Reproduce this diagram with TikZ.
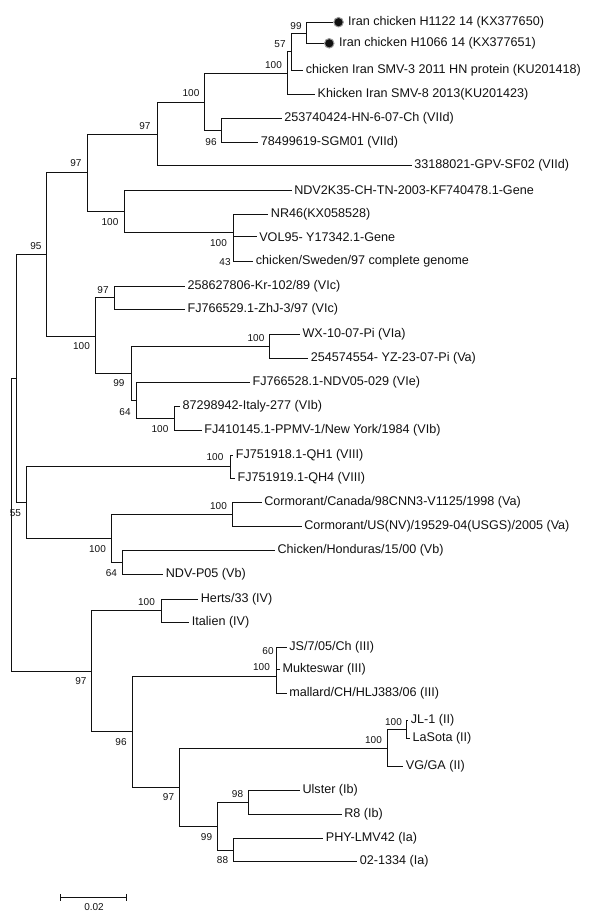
\documentclass[tikz,border=0pt]{standalone}
\usepackage{fontspec}
\setmainfont{Liberation Sans}
\usepackage{tikz}
\usetikzlibrary{arrows.meta}
\definecolor{ink}{HTML}{111111}
\definecolor{halo}{HTML}{9A9A9A}
\tikzset{
  branch/.style={draw=ink,line width=0.95pt},
  leaf/.style={anchor=west,inner xsep=2.4pt,inner ysep=0pt,text=ink,
    font=\fontsize{12.6}{14}\selectfont},
  boot/.style={inner sep=0pt,text=ink,font=\fontsize{10}{12}\selectfont},
  dotmark/.style={circle,anchor=west,minimum size=9.5pt,inner sep=0pt,fill=ink,
    draw=halo,line width=1pt},
}
\begin{document}
\begin{tikzpicture}[x=1pt,y=-1pt]
  \useasboundingbox (0,0) rectangle (599,918);
  % internal nodes
  \coordinate (root)  at (11,524.7);
  \coordinate (n55)   at (16.7,378.3);
  \coordinate (n95)   at (46,254.5);
  \coordinate (n97b)  at (87.3,172.7);
  \coordinate (n97a)  at (157,134.3);
  \coordinate (n100a) at (204.3,102);
  \coordinate (n100b) at (287.3,73.3);
  \coordinate (n57)   at (291.7,51.8);
  \coordinate (n99)   at (306,33);
  \coordinate (n96)   at (221,130.3);
  \coordinate (n100c) at (124.3,211);
  \coordinate (n100d) at (233,232.3);
  \coordinate (n100f) at (95.7,336.7);
  \coordinate (n97c)  at (114.3,297.7);
  \coordinate (n99b)  at (131,373.3);
  \coordinate (n100g) at (269.3,346.3);
  \coordinate (n64a)  at (136.7,400.5);
  \coordinate (n100i) at (174.3,418.3);
  \coordinate (n100h) at (26.7,502);
  \coordinate (n100j) at (230,466.7);
  \coordinate (n100k) at (111,538.3);
  \coordinate (n100l) at (232.3,514.7);
  \coordinate (n64b)  at (122.7,562.3);
  \coordinate (n97d)  at (91,671);
  \coordinate (n100m) at (161,610.7);
  \coordinate (n96b)  at (132.7,731.7);
  \coordinate (n100n) at (276.7,676);
  \coordinate (n60)   at (276.7,658.3);
  \coordinate (n97e)  at (179.3,787.3);
  \coordinate (n100o) at (387.3,748.3);
  \coordinate (n100p) at (406,729.2);
  \coordinate (n99c)  at (217.3,826);
  \coordinate (n98)   at (248.3,802);
  \coordinate (n88)   at (233.3,850);

  % leaves
  \node[dotmark] (dotA) at (333.3,22.2) {};
  \node[leaf] (tA) at (345.5,22.2) {Iran chicken H1122 14 (KX377650)};
  \node[dotmark] (dotB) at (324,43.3) {};
  \node[leaf] (tB) at (336.5,43.3) {Iran chicken H1066 14 (KX377651)};
  \node[leaf] (smv3) at (303.3,70) {chicken Iran SMV-3 2011 HN protein (KU201418)};
  \node[leaf] (smv8) at (315,94.3) {Khicken Iran SMV-8 2013(KU201423)};
  \node[leaf] (hn6) at (281.7,118.3) {253740424-HN-6-07-Ch (VIId)};
  \node[leaf] (sgm) at (258.3,142.3) {78499619-SGM01 (VIId)};
  \node[leaf] (gpv) at (411.7,165.7) {33188021-GPV-SF02 (VIId)};
  \node[leaf] (ndv2k) at (291.7,190) {NDV2K35-CH-TN-2003-KF740478.1-Gene};
  \node[leaf] (nr46) at (268.3,214.3) {NR46(KX058528)};
  \node[leaf] (vol) at (256.7,236.7) {VOL95- Y17342.1-Gene};
  \node[leaf] (swe) at (253.3,261.7) {chicken/Sweden/97 complete genome};
  \node[leaf] (kr) at (185,286) {258627806-Kr-102/89 (VIc)};
  \node[leaf] (zhj) at (185,309.3) {FJ766529.1-ZhJ-3/97 (VIc)};
  \node[leaf] (wx) at (300,334.3) {WX-10-07-Pi (VIa)};
  \node[leaf] (yz) at (308.3,358.3) {254574554- YZ-23-07-Pi (Va)};
  \node[leaf] (ndv05) at (250,382.7) {FJ766528.1-NDV05-029 (VIe)};
  \node[leaf] (ita) at (180,406.7) {87298942-Italy-277 (VIb)};
  \node[leaf] (ppmv) at (201.7,430) {FJ410145.1-PPMV-1/New York/1984 (VIb)};
  \node[leaf] (qh1) at (233.3,455) {FJ751918.1-QH1 (VIII)};
  \node[leaf] (qh4) at (235,478.3) {FJ751919.1-QH4 (VIII)};
  \node[leaf] (corca) at (261.7,502.7) {Cormorant/Canada/98CNN3-V1125/1998 (Va)};
  \node[leaf] (corus) at (301.7,526.7) {Cormorant/US(NV)/19529-04(USGS)/2005 (Va)};
  \node[leaf] (hon) at (275,550.7) {Chicken/Honduras/15/00 (Vb)};
  \node[leaf] (p05) at (163.3,574) {NDV-P05 (Vb)};
  \node[leaf] (herts) at (198.3,599) {Herts/33 (IV)};
  \node[leaf] (italien) at (189.3,622.3) {Italien (IV)};
  \node[leaf] (js) at (286.7,647.3) {JS/7/05/Ch (III)};
  \node[leaf] (muk) at (280,669.3) {Mukteswar (III)};
  \node[leaf] (mal) at (286.7,693.3) {mallard/CH/HLJ383/06 (III)};
  \node[leaf] (jl) at (408.3,720) {JL-1 (II)};
  \node[leaf] (laso) at (410,738.3) {LaSota (II)};
  \node[leaf] (vg) at (403.3,766) {VG/GA (II)};
  \node[leaf] (uls) at (300,790) {Ulster (Ib)};
  \node[leaf] (r8) at (341.7,814) {R8 (Ib)};
  \node[leaf] (phy) at (323.3,838.3) {PHY-LMV42 (Ia)};
  \node[leaf] (l02) at (357.3,861.7) {02-1334 (Ia)};

  % branches
  \foreach \p/\c in {root/n55,root/n97d,n55/n95,n55/n100h,n95/n97b,n95/n100f,
      n97b/n97a,n97b/n100c,n97a/n100a,n100a/n100b,n100a/n96,n100b/n57,n57/n99,
      n100c/n100d,n100f/n97c,n100f/n99b,n99b/n100g,n99b/n64a,n64a/n100i,
      n100h/n100j,n100h/n100k,n100k/n100l,n100k/n64b,n97d/n100m,n97d/n96b,
      n96b/n100n,n96b/n97e,n100n/n60,n97e/n100o,n97e/n99c,n100o/n100p,
      n99c/n98,n99c/n88}
    \draw[branch] (\p) |- (\c);
  \foreach \p/\c in {n99/dotA,n99/dotB,n57/smv3,n100b/smv8,n96/hn6,n96/sgm,
      n97a/gpv,n100c/ndv2k,n100d/nr46,n100d/vol,n100d/swe,n97c/kr,n97c/zhj,
      n100g/wx,n100g/yz,n64a/ndv05,n100i/ita,n100i/ppmv,n100j/qh1,n100j/qh4,
      n100l/corca,n100l/corus,n64b/hon,n64b/p05,n100m/herts,n100m/italien,
      n60/js,n60/muk,n100n/mal,n100p/jl,n100p/laso,n100o/vg,n98/uls,n98/r8,
      n88/phy,n88/l02}
    \draw[branch] (\p) |- (\c.west);

  % bootstrap values
  \foreach \x/\y/\v [count=\i] in {296/26/99,280/44/57,273.5/65/100,191/93/100,
      145/126/97,211/142/96,76/163/97,110/222/100,218.5/243/100,225/262/43,
      36/246/95,103/290/97,81.5/346/100,256/337.7/100,119/383.3/99,125/411.7/64,
      160/429.3/100,215/457.3/100,218.5/506/100,15.5/513/55,97.5/549.3/100,
      111.5/573.3/64,146.5/602.3/100,268/650.7/60,261.5/667.3/100,81/681/97,
      121/741.7/96,393.5/721.7/100,373.5/740/100,237.5/794/98,168.5/797.3/97,
      206.5/836.7/99,222.5/860/88}
    \node[boot] (bs\i) at (\x,\y) {\v};

  % scale bar
  \coordinate (sbl) at (60,897.3);
  \coordinate (sbr) at (126.7,897.3);
  \draw[branch,{Bar[width=7pt]}-{Bar[width=7pt]}] (sbl) -- (sbr);
  \node[boot] (sblab) at (94,907.3) {0.02};
\end{tikzpicture}
\end{document}
